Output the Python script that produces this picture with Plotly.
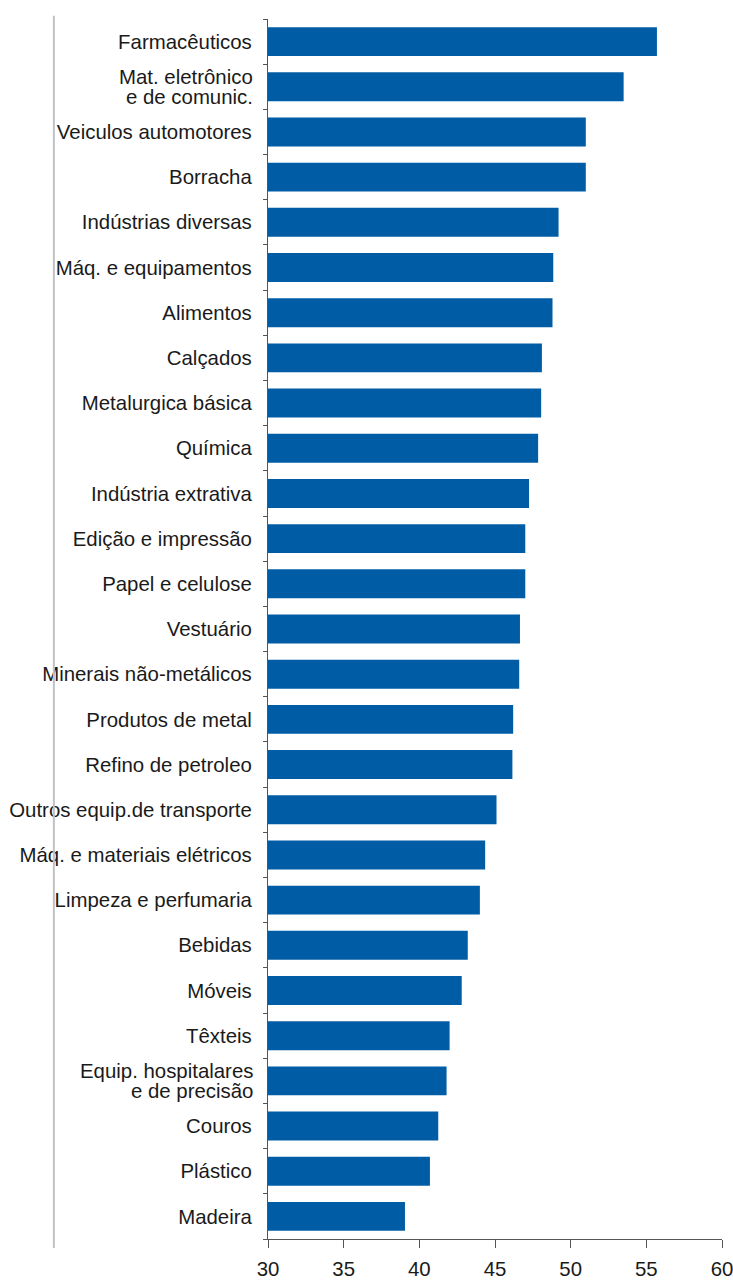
import plotly.graph_objects as go

categories = [
    "Farmacêuticos", "Mat. eletrônico<br>e de comunic.", "Veiculos automotores", "Borracha",
    "Indústrias diversas", "Máq. e equipamentos", "Alimentos", "Calçados",
    "Metalurgica básica", "Química", "Indústria extrativa", "Edição e impressão",
    "Papel e celulose", "Vestuário", "Minerais não-metálicos", "Produtos de metal",
    "Refino de petroleo", "Outros equip.de transporte", "Máq. e materiais elétricos",
    "Limpeza e perfumaria", "Bebidas", "Móveis", "Têxteis",
    "Equip. hospitalares<br>e de precisão", "Couros", "Plástico", "Madeira",
]
values = [
    55.7, 53.5, 51.0, 51.0, 49.2, 48.85, 48.8, 48.1, 48.05, 47.85, 47.25, 47.0,
    47.0, 46.65, 46.6, 46.2, 46.15, 45.1, 44.35, 44.0, 43.2, 42.8, 42.0, 41.8,
    41.25, 40.7, 39.05,
]
x_ticks = [30, 35, 40, 45, 50, 55, 60]
BASE = 30

FONT = "Liberation Sans, Arial, sans-serif"
FS = 20.4
BLUE = "#005da5"
TXT = "#1a1a1a"

# single-line labels go on the axis; two-line labels drawn as tight annotations
ticktext = ["" if "<br>" in c else c for c in categories]

fig = go.Figure(go.Bar(
    x=[v - BASE for v in values], y=categories, orientation="h", base=BASE,
    marker=dict(color=BLUE, line=dict(width=0)),
))

annotations = []
for c in categories:
    if "<br>" in c:
        lines = c.split("<br>")
        for i, ln in enumerate(lines):
            annotations.append(dict(
                x=0, xref="paper", y=c, yref="y", text=ln, showarrow=False,
                xanchor="right", yanchor="middle", xshift=-13,
                yshift=10 if i == 0 else -10,
                font=dict(family=FONT, size=FS, color=TXT),
            ))

fig.update_layout(
    width=733, height=1280,
    margin=dict(l=268, r=11, t=19, b=41),
    plot_bgcolor="white", paper_bgcolor="white",
    showlegend=False,
    bargap=0.36,
    font=dict(family=FONT, size=FS, color=TXT),
    annotations=annotations,
    shapes=[dict(
        type="line", xref="paper", yref="paper",
        x0=-0.4717, x1=-0.4717, y0=-0.0074, y1=1.0027,
        line=dict(color="#c0c0c8", width=2),
    )],
)
fig.update_xaxes(
    range=[30, 60], tickvals=x_ticks, ticktext=[str(t) for t in x_ticks],
    automargin=False, ticklabeloverflow="allow",
    showgrid=False, zeroline=False, showline=True, linecolor="#555555", linewidth=1.2,
    ticks="outside", ticklen=8, tickcolor="#555555", tickwidth=1.2,
    ticklabelstandoff=3,
    tickfont=dict(family=FONT, size=FS, color=TXT),
)
fig.update_yaxes(
    categoryorder="array", categoryarray=categories, autorange="reversed",
    tickvals=categories, ticktext=ticktext, automargin=False,
    showgrid=False, zeroline=False, showline=True, linecolor="#555555", linewidth=1.2,
    ticks="outside", ticklen=4, tickcolor="#555555", tickwidth=1.2, tickson="boundaries",
    ticklabelstandoff=11,
    tickfont=dict(family=FONT, size=FS, color=TXT),
)

fig.write_html(
    "out.html",
    config={"displayModeBar": False},
    post_script="document.body.style.margin='0';document.body.style.overflow='hidden';",
)
